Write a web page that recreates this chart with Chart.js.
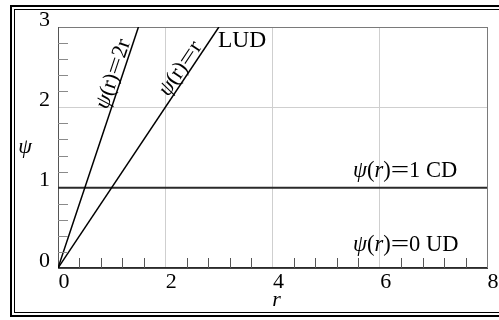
<!DOCTYPE html>
<html>
<head>
<meta charset="utf-8">
<script src="https://cdn.jsdelivr.net/npm/chart.js@4/dist/chart.umd.min.js"></script>
<style>
  html, body { margin: 0; padding: 0; background: #fff; }
  #wrap { width: 499px; height: 320px; position: relative; }
</style>
</head>
<body>
<div id="wrap"><canvas id="c" width="499" height="320"></canvas></div>
<script>
// Limiter functions psi(r) in the r–psi plane
const seriesNames = ['ψ(r)=2r', 'ψ(r)=r', 'ψ(r)=1 CD', 'ψ(r)=0 UD'];
const r2r   = [0, 1.5];
const psi2r = [0, 3];
const rR    = [0, 3];
const psiR  = [0, 3];
const rCD   = [0, 8];
const psiCD = [1, 1];
const rUD   = [0, 8];
const psiUD = [0, 0];
const xTickLabels = [0, 2, 4, 6, 8];
const yTickLabels = [0, 1, 2, 3];

const SERIF = '"Liberation Serif", "Times New Roman", serif';

function pts(xs, ys) { return xs.map((x, i) => ({ x: x, y: ys[i] })); }

function fontFor(size, italic) {
  return (italic ? 'italic ' : '') + size + 'px ' + SERIF;
}
// a run is [text, italic, horizontalScale]
function runsWidth(ctx, runs, size) {
  let w = 0;
  for (const [t, it, sx = 1] of runs) { ctx.font = fontFor(size, it); w += ctx.measureText(t).width * sx; }
  return w;
}
function drawRuns(ctx, runs, size, x, y) {
  ctx.textBaseline = 'alphabetic';
  ctx.textAlign = 'left';
  for (const [t, it, sx = 1] of runs) {
    ctx.font = fontFor(size, it);
    const w = ctx.measureText(t).width * sx;
    ctx.save();
    ctx.translate(x, y);
    ctx.scale(sx, 1);
    ctx.fillText(t, 0, 0);
    ctx.restore();
    x += w;
  }
}
const EQ = ['=', false, 1.45];

// double frame around the figure
const framePlugin = {
  id: 'frame',
  beforeDraw(chart) {
    const ctx = chart.ctx;
    ctx.save();
    ctx.fillStyle = '#fff';
    ctx.fillRect(0, 0, chart.width, chart.height);
    ctx.fillStyle = '#000';
    // outer thick line
    ctx.fillRect(10, 5, 600, 2);
    ctx.fillRect(10, 5, 2, 312);
    ctx.fillRect(10, 315, 600, 2);
    // inner thin line
    ctx.fillRect(14, 9, 600, 1);
    ctx.fillRect(14, 9, 1, 304);
    ctx.fillRect(14, 312, 600, 1);
    ctx.restore();
  }
};

// minor ticks drawn inward from the left and bottom axes
const minorTickPlugin = {
  id: 'minorTicks',
  afterDatasetsDraw(chart) {
    const { ctx, scales: { x, y } } = chart;
    ctx.save();
    ctx.lineWidth = 1;
    ctx.strokeStyle = '#8a8a8a';
    for (let k = 1; k < 15; k++) {
      if (k % 5 === 0) continue;
      const py = Math.round(y.getPixelForValue(k * 0.2)) + 0.5;
      ctx.beginPath();
      ctx.moveTo(x.left, py);
      ctx.lineTo(x.left + 10, py);
      ctx.stroke();
    }
    ctx.strokeStyle = '#555';
    for (let k = 1; k < 20; k++) {
      if (k % 5 === 0) continue;
      const px = Math.round(x.getPixelForValue(k * 0.4)) + 0.5;
      ctx.beginPath();
      ctx.moveTo(px, y.bottom);
      ctx.lineTo(px, y.bottom - 10);
      ctx.stroke();
    }
    ctx.restore();
  }
};

// curve labels and axis titles
const labelPlugin = {
  id: 'curveLabels',
  afterDatasetsDraw(chart) {
    const { ctx, scales: { x, y } } = chart;
    ctx.save();
    ctx.fillStyle = '#000';

    // labels lying along the sloped lines
    const along = [
      { xs: r2r, ys: psi2r, at: 1.19, runs: [['ψ', true], ['(r)', false], EQ, ['2r', false]] },
      { xs: rR,  ys: psiR,  at: 2.42, runs: [['ψ', true], ['(r)', false], EQ, ['r', false]] }
    ];
    for (const a of along) {
      const x0 = x.getPixelForValue(a.xs[0]), y0 = y.getPixelForValue(a.ys[0]);
      const x1 = x.getPixelForValue(a.xs[1]), y1 = y.getPixelForValue(a.ys[1]);
      const ang = Math.atan2(y1 - y0, x1 - x0);
      const slope = (a.ys[1] - a.ys[0]) / (a.xs[1] - a.xs[0]);
      const px = x.getPixelForValue(a.at), py = y.getPixelForValue(a.at * slope);
      const size = 22;
      const w = runsWidth(ctx, a.runs, size);
      ctx.save();
      ctx.translate(px, py);
      ctx.rotate(ang);
      drawRuns(ctx, a.runs, size, -w / 2, -3);
      ctx.restore();
    }

    // horizontal labels
    drawRuns(ctx, [['ψ', true], ['(', false], ['r', true], [')', false], EQ, ['1 CD', false]], 22.5,
      x.getPixelForValue(5.5), y.getPixelForValue(psiCD[0]) - 11);
    drawRuns(ctx, [['ψ', true], ['(', false], ['r', true], [')', false], EQ, ['0 UD', false]], 22.5,
      x.getPixelForValue(5.5), y.getPixelForValue(psiUD[0]) - 17);
    drawRuns(ctx, [['LUD', false]], 23.5,
      x.getPixelForValue(rR[1]) - 1, y.getPixelForValue(psiR[1]) + 20);

    // axis titles
    ctx.font = fontFor(22, true);
    ctx.textAlign = 'center';
    ctx.textBaseline = 'middle';
    ctx.fillText('ψ', 25, (y.top + y.bottom) / 2);
    ctx.fillText('r', (x.left + x.right) / 2 + 4, 300);
    ctx.restore();
  }
};

const gridColor = (max) => (c) => (c.tick && c.tick.value === max ? '#7a7a7a' : '#cfcfcf');

new Chart(document.getElementById('c'), {
  type: 'scatter',
  data: {
    datasets: [
      { label: seriesNames[0], data: pts(r2r, psi2r), borderColor: '#000', borderWidth: 1.5 },
      { label: seriesNames[1], data: pts(rR, psiR), borderColor: '#000', borderWidth: 1.5 },
      { label: seriesNames[2], data: pts(rCD, psiCD), borderColor: '#2a2a2a', borderWidth: 2 },
      { label: seriesNames[3], data: pts(rUD, psiUD), borderColor: '#2a2a2a', borderWidth: 2 }
    ].map(d => Object.assign(d, { showLine: true, pointRadius: 0, pointHoverRadius: 0, fill: false }))
  },
  options: {
    responsive: false,
    animation: false,
    devicePixelRatio: 1,
    layout: { padding: { left: 0, right: 12, top: 27, bottom: 0 } },
    plugins: { legend: { display: false }, tooltip: { enabled: false } },
    scales: {
      x: {
        type: 'linear',
        min: 0, max: 8,
        afterFit: (s) => { s.height = 52; },
        afterBuildTicks: (s) => { s.ticks = xTickLabels.map(v => ({ value: v })); },
        grid: { color: gridColor(8), lineWidth: 1, drawTicks: false },
        border: { display: true, color: '#444', width: 1 },
        ticks: { color: '#000', font: { family: SERIF, size: 22 }, padding: 1, labelOffset: 6, maxRotation: 0 }
      },
      y: {
        type: 'linear',
        min: 0, max: 3,
        afterFit: (s) => { s.width = 58; },
        afterBuildTicks: (s) => { s.ticks = yTickLabels.map(v => ({ value: v })); },
        grid: { color: gridColor(3), lineWidth: 1, drawTicks: false },
        border: { display: true, color: '#555', width: 1 },
        ticks: { color: '#000', font: { family: SERIF, size: 22 }, padding: 8, labelOffset: -7 }
      }
    }
  },
  plugins: [framePlugin, minorTickPlugin, labelPlugin]
});
</script>
</body>
</html>
